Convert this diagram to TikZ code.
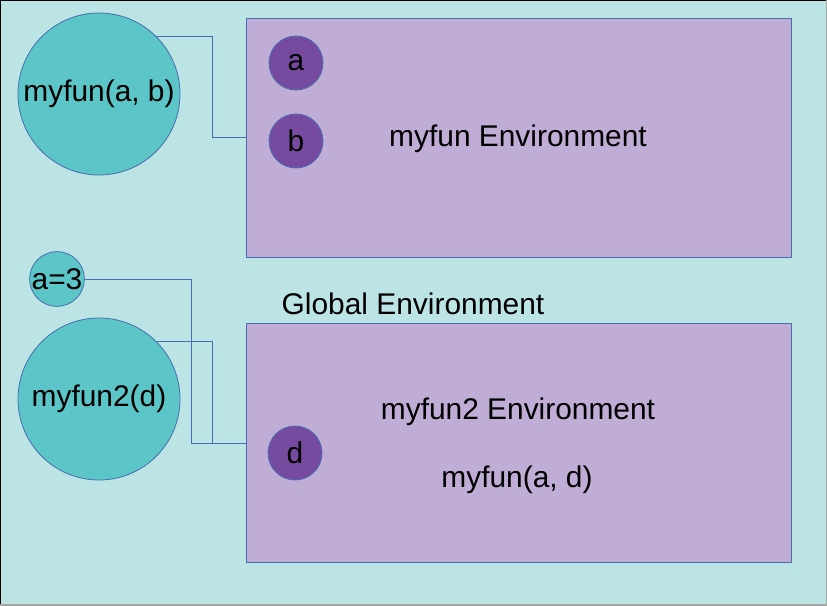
\documentclass[tikz,border=0pt]{standalone}
\usepackage{fontspec}
\setmainfont{Liberation Sans}
\definecolor{bgcol}{RGB}{189,228,229}
\definecolor{tealcol}{RGB}{91,197,200}
\definecolor{envcol}{RGB}{191,173,213}
\definecolor{argcol}{RGB}{118,74,158}
\definecolor{linecol}{RGB}{70,110,178}
\begin{document}
\begin{tikzpicture}[x=1pt,y=-1pt,
  every node/.style={font=\fontsize{29.9}{34}\selectfont, text=black, inner sep=0pt},
  call/.style={circle, draw=linecol, fill=tealcol, line width=0.8pt},
  arg/.style={circle, draw=linecol, fill=argcol, minimum size=54pt, line width=0.8pt},
  envbox/.style={rectangle, draw=linecol, fill=envcol, line width=1pt, minimum width=545pt, minimum height=239pt},
  wire/.style={draw=linecol, line width=0.8pt}]
% canvas
\useasboundingbox (0,0) rectangle (827,605);
\fill[bgcol] (0,0) rectangle (827,605);
\draw[black, line width=2pt] (0,605) -- (0,0) -- (827,0);
\draw[gray!70, line width=1.5pt] (827,0) -- (827,605) -- (0,605);

% environments
\node[envbox] (envA) at (518.5,137.5) {};
\node[envbox] (envB) at (518.5,443) {};

% calls and values
\node[call, minimum size=162pt] (f1) at (99,94) {myfun(a, b)};
\node[call, minimum size=54pt] (a3) at (57,279) {a=3};
\node[call, minimum size=162pt] (f2) at (99,399) {myfun2(d)};

% arguments
\node[arg] (pa) at (296,63) {a};
\node[arg] (pb) at (296,141) {b};
\node[arg] (pd) at (295,453) {d};

% labels
\node (labA) at (518,139) {myfun Environment};
\node (labG) at (413,304) {Global Environment};
\node (labB) at (518,412) {myfun2 Environment};
\node (labC) at (517,480) {myfun(a, d)};

% connectors
\draw[wire] (f1.45) -| ([xshift=-33pt]envA.west) -- (envA.west);
\draw[wire] (a3.east) -| ([xshift=-54pt]envB.west) -- (envB.west);
\draw[wire] (f2.45) -| ([xshift=-33pt]envB.west) -- (envB.west);
\end{tikzpicture}
\end{document}
